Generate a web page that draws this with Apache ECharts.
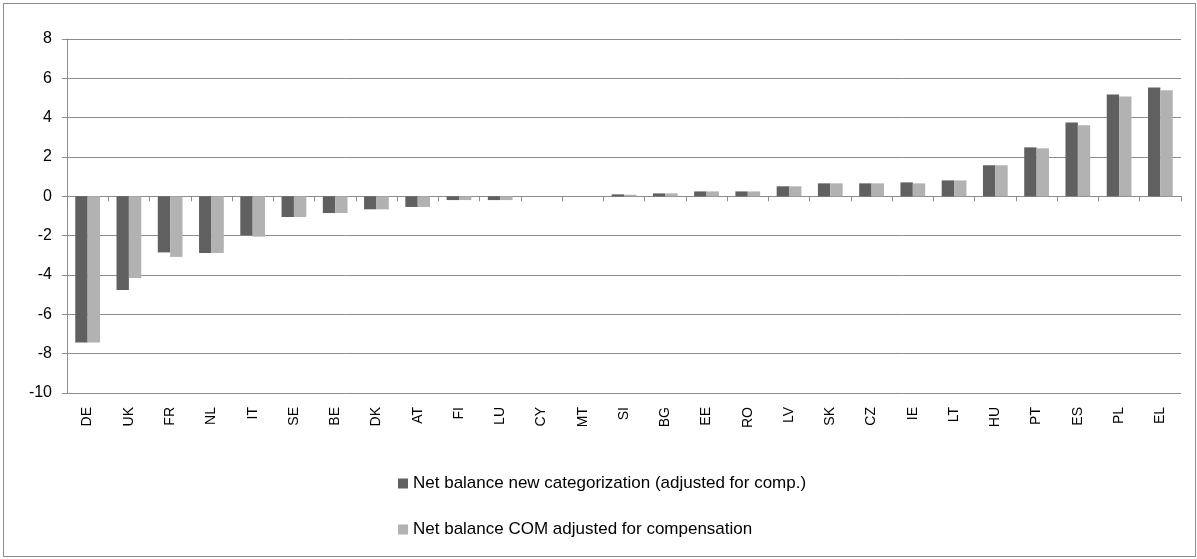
<!DOCTYPE html>
<html>
<head>
<meta charset="utf-8">
<script src="https://cdn.jsdelivr.net/npm/echarts@6/dist/echarts.min.js"></script>
<style>
html,body{margin:0;padding:0;background:#fff;}
#frame{position:absolute;left:3px;top:3px;width:1193px;height:554px;border:1px solid #8c8c8c;box-sizing:border-box;}
#chart{position:absolute;left:0;top:0;width:1197px;height:559px;}
</style>
</head>
<body>
<div id="frame"></div>
<div id="chart"></div>
<script>
const categories = ['DE','UK','FR','NL','IT','SE','BE','DK','AT','FI','LU','CY','MT','SI','BG','EE','RO','LV','SK','CZ','IE','LT','HU','PT','ES','PL','EL'];
const netNewCategorization = [-7.43,-4.76,-2.85,-2.88,-1.98,-1.05,-0.85,-0.66,-0.54,-0.19,-0.19,0,0,0.1,0.15,0.25,0.25,0.51,0.66,0.66,0.71,0.81,1.58,2.49,3.76,5.18,5.54];
const netCOMAdjusted = [-7.43,-4.15,-3.08,-2.88,-2.05,-1.05,-0.85,-0.66,-0.54,-0.19,-0.19,0,0,0.08,0.15,0.25,0.25,0.51,0.66,0.66,0.66,0.81,1.58,2.44,3.61,5.08,5.39];
const seriesNames = ['Net balance new categorization (adjusted for comp.)','Net balance COM adjusted for compensation'];
const yTicks = {min:-10, max:8, interval:2};

const chart = echarts.init(document.getElementById('chart'), null, {renderer:'canvas'});
const fontFamily = '"Liberation Sans", "DejaVu Sans", sans-serif';
chart.setOption({
  animation:false,
  backgroundColor:'transparent',
  grid:{left:67, right:16, top:39, bottom:166, containLabel:false},
  legend:{
    orient:'vertical', left:393, top:470, itemWidth:10, itemHeight:10, itemGap:29,
    icon:'rect',
    textStyle:{fontFamily, fontSize:17, color:'#000'},
    data:seriesNames
  },
  xAxis:[
    {
      type:'category', data:categories, position:'bottom',
      axisLine:{show:false, onZero:false}, axisTick:{show:false},
      axisLabel:{rotate:90, fontFamily, fontSize:14, color:'#000', margin:14, interval:0}
    },
    {
      type:'category', data:categories, position:'bottom',
      axisLine:{show:true, onZero:true, lineStyle:{color:'#8c8c8c', width:1}},
      axisTick:{show:true, length:5, lineStyle:{color:'#8c8c8c'}},
      axisLabel:{show:false}
    }
  ],
  yAxis:{
    type:'value', min:yTicks.min, max:yTicks.max, interval:yTicks.interval,
    axisLine:{show:true, lineStyle:{color:'#8c8c8c'}},
    axisTick:{show:true, length:5, lineStyle:{color:'#8c8c8c'}},
    axisLabel:{fontFamily, fontSize:16, color:'#000', margin:15},
    splitLine:{show:true, lineStyle:{color:'#8c8c8c', width:1}}
  },
  series:[
    {name:seriesNames[0], type:'bar', xAxisIndex:0, data:netNewCategorization,
     itemStyle:{color:'#606060'}, barGap:'0%', barCategoryGap:'40%'},
    {name:seriesNames[1], type:'bar', xAxisIndex:0, data:netCOMAdjusted,
     itemStyle:{color:'#b2b2b2'}, barGap:'0%', barCategoryGap:'40%'}
  ]
});
</script>
</body>
</html>
